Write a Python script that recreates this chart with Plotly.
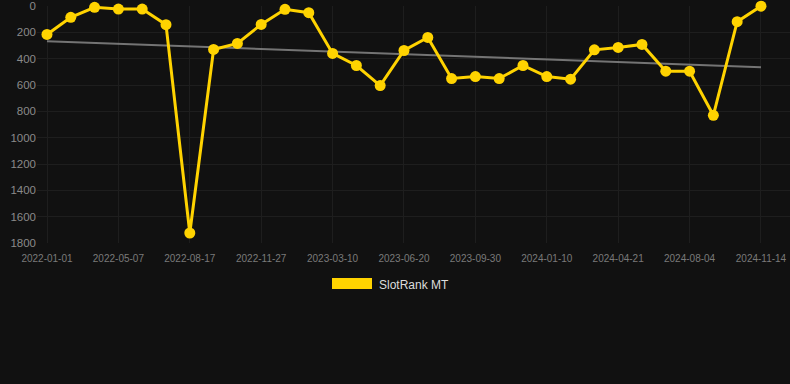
import plotly.graph_objects as go

dates = [
    "2022-01-01", "2022-02-12", "2022-03-26", "2022-05-07", "2022-06-10", "2022-07-14",
    "2022-08-17", "2022-09-20", "2022-10-24", "2022-11-27", "2022-12-31", "2023-02-04",
    "2023-03-10", "2023-04-13", "2023-05-17", "2023-06-20", "2023-07-24", "2023-08-27",
    "2023-09-30", "2023-11-03", "2023-12-07", "2024-01-10", "2024-02-13", "2024-03-18",
    "2024-04-21", "2024-05-26", "2024-06-30", "2024-08-04", "2024-09-07", "2024-10-11",
    "2024-11-14",
]
rank = [216, 86, 10, 23, 23, 142, 1724, 330, 284, 140, 25, 51,
        360, 452, 604, 338, 239, 551, 536, 551, 452, 536, 556, 333,
        315, 292, 495, 495, 830, 119, 1]
trend_start = 267
trend_end = 465
tick_dates = dates[::3]
y_ticks = [0, 200, 400, 600, 800, 1000, 1200, 1400, 1600, 1800]
series_name = "SlotRank MT"

BG = "#111111"
GRID = "#1e1e1e"
YELLOW = "#FFD300"

fig = go.Figure()
fig.add_trace(go.Scatter(
    x=[dates[0], dates[-1]], y=[trend_start, trend_end], mode="lines",
    line=dict(color="rgba(150,150,150,0.75)", width=2), hoverinfo="skip",
    showlegend=False, cliponaxis=False))
fig.add_trace(go.Scatter(
    x=dates, y=rank, mode="lines+markers", name=series_name,
    line=dict(color=YELLOW, width=3), marker=dict(color=YELLOW, size=11),
    showlegend=False, cliponaxis=False))

L, T, R, B = 37, 6, 790, 243
W, H = 790, 384
pw, ph = R - L, B - T
def px(x):
    return (x - L) / pw
def py(y):
    return (B - y) / ph

fig.add_shape(type="rect", xref="paper", yref="paper",
              x0=px(332), x1=px(372), y0=py(289), y1=py(278),
              fillcolor=YELLOW, line=dict(width=0))
fig.add_annotation(xref="paper", yref="paper", x=px(377), y=py(284.5),
                   text=series_name, showarrow=False, xanchor="left", yanchor="middle",
                   font=dict(color="#dddddd", size=12, family="Liberation Sans, Arial, sans-serif"))

fig.update_layout(
    width=W, height=H, paper_bgcolor=BG, plot_bgcolor=BG,
    margin=dict(l=L, r=W - R, t=T, b=H - B),
    font=dict(family="Liberation Sans, Arial, sans-serif"),
    xaxis=dict(type="category", categoryorder="array", categoryarray=dates,
               range=[-0.42, 31.22], tickmode="array", tickvals=tick_dates,
               ticktext=tick_dates, showgrid=True, gridcolor=GRID, gridwidth=1,
               zeroline=False, showline=False, ticks="", ticklabelstandoff=8,
               tickfont=dict(color="#7a7a7a", size=10)),
    yaxis=dict(range=[1800, 0], tickmode="array", tickvals=y_ticks,
               showgrid=True, gridcolor=GRID, gridwidth=1, zeroline=False,
               showline=False, ticks="", tickfont=dict(color="#8a8a8a", size=11.5)),
)
fig.write_html("out.html")
